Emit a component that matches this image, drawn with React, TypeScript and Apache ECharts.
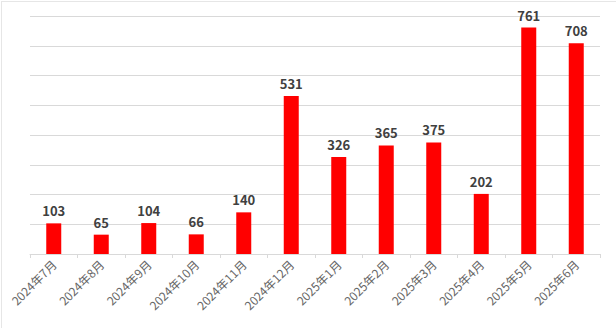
import React, { useEffect, useRef } from "react";
import * as echarts from "echarts";

const categories = [
  "2024年7月", "2024年8月", "2024年9月", "2024年10月", "2024年11月", "2024年12月",
  "2025年1月", "2025年2月", "2025年3月", "2025年4月", "2025年5月", "2025年6月",
];
const values = [103, 65, 104, 66, 140, 531, 326, 365, 375, 202, 761, 708];

export default function App() {
  const ref = useRef<HTMLDivElement>(null);
  useEffect(() => {
    if (!ref.current) return;
    const chart = echarts.init(ref.current, undefined, { renderer: "svg" });
    chart.setOption({
      animation: false,
      backgroundColor: "#ffffff",
      grid: { left: 30, right: 16, top: 16, bottom: 74, containLabel: false },
      xAxis: {
        type: "category",
        data: categories,
        axisLine: { lineStyle: { color: "#d9d9d9", width: 1 } },
        axisTick: { show: true, length: 4, lineStyle: { color: "#d9d9d9" } },
        axisLabel: {
          rotate: 45,
          interval: 0,
          color: "#666666",
          fontSize: 12,
          fontFamily: "Noto Sans CJK SC, sans-serif",
          margin: 8,
        },
      },
      yAxis: {
        type: "value",
        min: 0,
        max: 800,
        interval: 100,
        axisLabel: { show: false },
        axisLine: { show: false },
        axisTick: { show: false },
        splitLine: { lineStyle: { color: "#d9d9d9", width: 1 } },
      },
      series: [
        {
          type: "bar",
          data: values,
          barWidth: 15,
          itemStyle: { color: "#ff0000" },
          label: {
            show: true,
            position: "top",
            distance: 6,
            color: "#404040",
            fontSize: 13,
            fontWeight: "bold",
            fontFamily: "Noto Sans CJK SC, sans-serif",
          },
        },
      ],
    });
    return () => chart.dispose();
  }, []);
  return (
    <div
      style={{
        position: "fixed",
        left: 0,
        top: 0,
        width: 616,
        height: 328,
        background: "#fff",
      }}
    >
      <div
        style={{
          position: "absolute",
          left: 1,
          top: 1,
          width: 615,
          height: 327,
          borderTop: "1px solid #e6e6e6",
          borderLeft: "1px solid #e6e6e6",
          boxSizing: "border-box",
          pointerEvents: "none",
          zIndex: 2,
        }}
      />
      <div ref={ref} style={{ width: 616, height: 328 }} />
    </div>
  );
}
